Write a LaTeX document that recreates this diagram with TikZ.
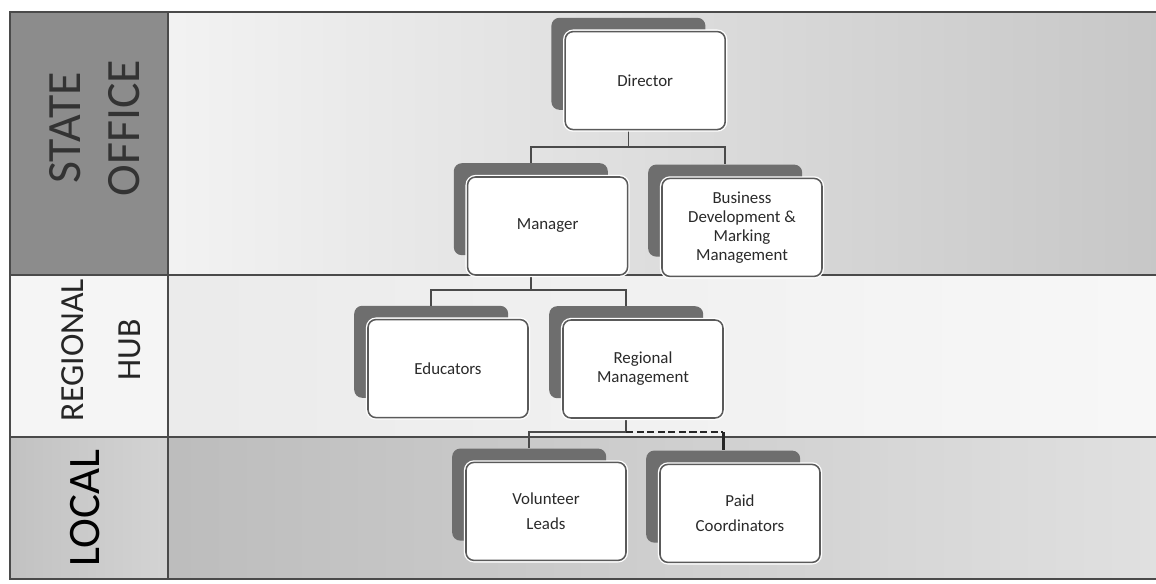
\documentclass[tikz,border=0pt]{standalone}
\usepackage{fontspec}
\setmainfont{Carlito}
\definecolor{framegray}{HTML}{4A4A4A}
\definecolor{backgray}{HTML}{6E6E6E}
\definecolor{cardline}{HTML}{5A5A5A}
\definecolor{statecell}{HTML}{8C8C8C}
\definecolor{textdark}{HTML}{2A2A2A}

\begin{document}
\begin{tikzpicture}[
  back/.style={fill=backgray,rounded corners=0.2cm,minimum width=3.85cm,minimum height=2.3cm,inner sep=0pt},
  card/.style={draw=cardline,line width=1.1pt,fill=white,rounded corners=0.2cm,
    preaction={draw=white,line width=3pt},
    minimum width=4cm,minimum height=2.45cm,inner sep=0pt,align=center,
    text=textdark,font=\fontsize{12}{13.5}\selectfont},
  link/.style={draw=framegray,line width=1.2pt},
  rowtext/.style={rotate=90,align=center}
]
  \useasboundingbox (0,0) rectangle (28.9,14.575);

  % rows
  \fill[statecell] (0.25,7.7) rectangle (4.2,14.275);
  \shade[left color=black!5,right color=black!22] (4.2,7.7) rectangle (29.1,14.275);
  \fill[black!4] (0.25,3.65) rectangle (4.2,7.7);
  \shade[left color=black!8,right color=black!3] (4.2,3.65) rectangle (29.1,7.7);
  \shade[left color=black!24,right color=black!17] (0.25,0.1) rectangle (4.2,3.65);
  \shade[left color=black!26,right color=black!12] (4.2,0.1) rectangle (29.1,3.65);
  \draw[framegray,line width=1.3pt] (0.25,0.1) rectangle (29.1,14.275);
  \draw[framegray,line width=1.3pt] (0.25,7.7) -- (29.1,7.7);
  \draw[framegray,line width=1.3pt] (0.25,3.65) -- (29.1,3.65);
  \draw[framegray,line width=1.3pt] (4.2,0.1) -- (4.2,14.275);

  \node[rowtext,text=black!80,font=\fontsize{34}{42}\selectfont] (state) at (2.375,11.375) {STATE\\OFFICE};
  \node[rowtext,text=black!85,font=\fontsize{24}{41}\selectfont] (hub) at (2.525,5.825) {REGIONAL\\HUB};
  \node[rowtext,text=black,font=\fontsize{32}{38}\selectfont] (local) at (2.125,1.875) {LOCAL};

  % shadow cards
  \node[back] (dirs) at (15.71,12.98) {};
  \node[back] (mgrs) at (13.27,9.345) {};
  \node[back] (buss) at (18.13,9.31) {};
  \node[back] (edus) at (10.78,5.78) {};
  \node[back] (regs) at (15.655,5.77) {};
  \node[back] (vols) at (13.23,2.21) {};
  \node[back] (pais) at (18.08,2.16) {};

  % connectors
  \coordinate (busA) at (0,10.9);
  \coordinate (busB) at (0,7.325);
  \coordinate (busC) at (0,3.775);
  \draw[link] (dirs.south) -- (dirs.south |- busA) -| (mgrs.north);
  \draw[link] (dirs.south |- busA) -| (buss.north);
  \draw[link] (mgrs.south) -- (mgrs.south |- busB) -| (edus.north);
  \draw[link] (mgrs.south |- busB) -| (regs.north);
  \draw[link] (regs.south) -- (regs.south |- busC) -| (vols.north);
  \draw[link,draw=black!85,line width=2pt,dash pattern=on 5pt off 2.5pt] (regs.south |- busC) -- (pais.north |- busC);
  \draw[link,draw=black!85,line width=2pt] (pais.north |- busC) -- (pais.north);

  % front cards
  \node[card] (dir) at (16.13,12.56) {Director};
  \node[card] (mgr) at (13.69,8.925) {Manager};
  \node[card] (bus) at (18.55,8.89) {Business\\Development \&\\Marking\\Management};
  \node[card] (edu) at (11.2,5.36) {Educators};
  \node[card] (reg) at (16.075,5.35) {Regional\\Management};
  \node[card] (vol) at (13.65,1.79) {Volunteer\\[4.5pt]Leads};
  \node[card] (pai) at (18.5,1.74) {Paid\\[4.5pt]Coordinators};
\end{tikzpicture}
\end{document}
